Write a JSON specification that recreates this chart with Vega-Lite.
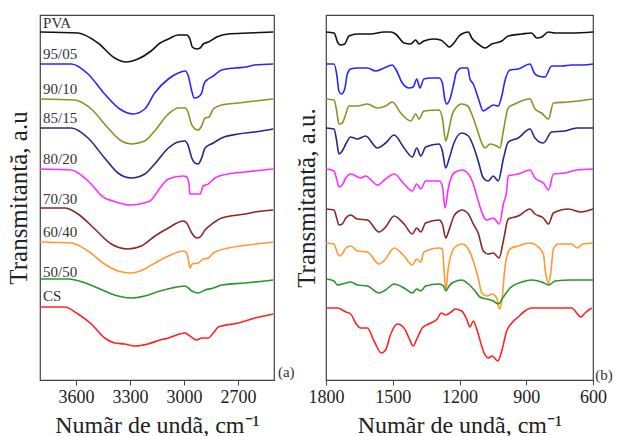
{
"$schema":"https://vega.github.io/schema/vega-lite/v6.json",
"padding":{"left":5,"top":14,"right":2,"bottom":0},
"background":"white",
"config":{"view":{"stroke":"#444","strokeWidth":1.2},"font":"Liberation Serif",
"axis":{"labelFont":"Liberation Serif","titleFont":"Liberation Serif","titleFontWeight":"normal","labelColor":"#222","titleColor":"#222","domainColor":"#444","tickColor":"#444","grid":false,"labelOverlap":false}},
"hconcat":[
{"width":234,"height":365,
"layer":[
{"data":{"values":[
{"s":"PVA","w":3800,"t":348},{"s":"PVA","w":3589,"t":347},{"s":"PVA","w":3478,"t":337},{"s":"PVA","w":3385,"t":322},{"s":"PVA","w":3322,"t":318},{"s":"PVA","w":3256,"t":321},{"s":"PVA","w":3183,"t":329},{"s":"PVA","w":3133,"t":337},{"s":"PVA","w":3087,"t":341},{"s":"PVA","w":3033,"t":345},{"s":"PVA","w":2985,"t":345},{"s":"PVA","w":2967,"t":341},{"s":"PVA","w":2954,"t":333},{"s":"PVA","w":2929,"t":331},{"s":"PVA","w":2911,"t":332},{"s":"PVA","w":2893,"t":336},{"s":"PVA","w":2865,"t":338},{"s":"PVA","w":2818,"t":343},{"s":"PVA","w":2754,"t":346},{"s":"PVA","w":2644,"t":347},{"s":"PVA","w":2504,"t":348},
{"s":"95/05","w":3800,"t":316},{"s":"95/05","w":3626,"t":316},{"s":"95/05","w":3533,"t":306},{"s":"95/05","w":3441,"t":286},{"s":"95/05","w":3357,"t":271},{"s":"95/05","w":3283,"t":266},{"s":"95/05","w":3218,"t":271},{"s":"95/05","w":3163,"t":287},{"s":"95/05","w":3087,"t":301},{"s":"95/05","w":3032,"t":307},{"s":"95/05","w":2994,"t":309},{"s":"95/05","w":2976,"t":304},{"s":"95/05","w":2957,"t":289},{"s":"95/05","w":2943,"t":282},{"s":"95/05","w":2921,"t":283},{"s":"95/05","w":2902,"t":287},{"s":"95/05","w":2887,"t":297},{"s":"95/05","w":2865,"t":301},{"s":"95/05","w":2837,"t":304},{"s":"95/05","w":2791,"t":310},{"s":"95/05","w":2717,"t":312},{"s":"95/05","w":2652,"t":313},{"s":"95/05","w":2606,"t":315},{"s":"95/05","w":2504,"t":316},
{"s":"90/10","w":3800,"t":281},{"s":"90/10","w":3607,"t":280},{"s":"90/10","w":3515,"t":271},{"s":"90/10","w":3422,"t":252},{"s":"90/10","w":3348,"t":239},{"s":"90/10","w":3293,"t":236},{"s":"90/10","w":3218,"t":239},{"s":"90/10","w":3163,"t":249},{"s":"90/10","w":3087,"t":266},{"s":"90/10","w":3032,"t":272},{"s":"90/10","w":2994,"t":272},{"s":"90/10","w":2976,"t":267},{"s":"90/10","w":2961,"t":257},{"s":"90/10","w":2939,"t":251},{"s":"90/10","w":2921,"t":250},{"s":"90/10","w":2902,"t":254},{"s":"90/10","w":2883,"t":262},{"s":"90/10","w":2861,"t":263},{"s":"90/10","w":2837,"t":271},{"s":"90/10","w":2791,"t":275},{"s":"90/10","w":2698,"t":277},{"s":"90/10","w":2606,"t":279},{"s":"90/10","w":2504,"t":281},
{"s":"85/15","w":3800,"t":252},{"s":"85/15","w":3626,"t":252},{"s":"85/15","w":3533,"t":242},{"s":"85/15","w":3441,"t":222},{"s":"85/15","w":3367,"t":207},{"s":"85/15","w":3293,"t":202},{"s":"85/15","w":3218,"t":206},{"s":"85/15","w":3163,"t":216},{"s":"85/15","w":3087,"t":232},{"s":"85/15","w":3032,"t":238},{"s":"85/15","w":2994,"t":239},{"s":"85/15","w":2976,"t":234},{"s":"85/15","w":2957,"t":222},{"s":"85/15","w":2939,"t":217},{"s":"85/15","w":2921,"t":216},{"s":"85/15","w":2902,"t":222},{"s":"85/15","w":2883,"t":232},{"s":"85/15","w":2837,"t":237},{"s":"85/15","w":2791,"t":242},{"s":"85/15","w":2698,"t":246},{"s":"85/15","w":2606,"t":248},{"s":"85/15","w":2504,"t":251},
{"s":"80/20","w":3800,"t":211},{"s":"80/20","w":3626,"t":210},{"s":"80/20","w":3533,"t":199},{"s":"80/20","w":3441,"t":182},{"s":"80/20","w":3394,"t":179},{"s":"80/20","w":3300,"t":175},{"s":"80/20","w":3189,"t":179},{"s":"80/20","w":3133,"t":192},{"s":"80/20","w":3087,"t":201},{"s":"80/20","w":3004,"t":204},{"s":"80/20","w":2985,"t":203},{"s":"80/20","w":2972,"t":196},{"s":"80/20","w":2967,"t":186},{"s":"80/20","w":2939,"t":186},{"s":"80/20","w":2911,"t":186},{"s":"80/20","w":2893,"t":194},{"s":"80/20","w":2865,"t":196},{"s":"80/20","w":2828,"t":202},{"s":"80/20","w":2754,"t":206},{"s":"80/20","w":2661,"t":208},{"s":"80/20","w":2504,"t":211},
{"s":"70/30","w":3800,"t":172},{"s":"70/30","w":3663,"t":172},{"s":"70/30","w":3589,"t":166},{"s":"70/30","w":3496,"t":151},{"s":"70/30","w":3404,"t":136},{"s":"70/30","w":3311,"t":131},{"s":"70/30","w":3237,"t":134},{"s":"70/30","w":3161,"t":144},{"s":"70/30","w":3087,"t":152},{"s":"70/30","w":3004,"t":159},{"s":"70/30","w":2985,"t":157},{"s":"70/30","w":2957,"t":147},{"s":"70/30","w":2929,"t":142},{"s":"70/30","w":2911,"t":143},{"s":"70/30","w":2883,"t":150},{"s":"70/30","w":2837,"t":157},{"s":"70/30","w":2791,"t":162},{"s":"70/30","w":2661,"t":166},{"s":"70/30","w":2606,"t":168},{"s":"70/30","w":2504,"t":170},
{"s":"60/40","w":3800,"t":138},{"s":"60/40","w":3626,"t":137},{"s":"60/40","w":3533,"t":129},{"s":"60/40","w":3441,"t":116},{"s":"60/40","w":3367,"t":109},{"s":"60/40","w":3293,"t":107},{"s":"60/40","w":3218,"t":111},{"s":"60/40","w":3161,"t":117},{"s":"60/40","w":3087,"t":124},{"s":"60/40","w":3004,"t":129},{"s":"60/40","w":2985,"t":127},{"s":"60/40","w":2976,"t":121},{"s":"60/40","w":2967,"t":112},{"s":"60/40","w":2954,"t":116},{"s":"60/40","w":2921,"t":117},{"s":"60/40","w":2893,"t":121},{"s":"60/40","w":2865,"t":122},{"s":"60/40","w":2837,"t":127},{"s":"60/40","w":2754,"t":132},{"s":"60/40","w":2643,"t":135},{"s":"60/40","w":2504,"t":138},
{"s":"50/50","w":3800,"t":101},{"s":"50/50","w":3644,"t":101},{"s":"50/50","w":3533,"t":96},{"s":"50/50","w":3441,"t":89},{"s":"50/50","w":3367,"t":84},{"s":"50/50","w":3293,"t":82},{"s":"50/50","w":3218,"t":84},{"s":"50/50","w":3133,"t":89},{"s":"50/50","w":3068,"t":92},{"s":"50/50","w":2994,"t":94},{"s":"50/50","w":2976,"t":92},{"s":"50/50","w":2957,"t":89},{"s":"50/50","w":2921,"t":87},{"s":"50/50","w":2883,"t":90},{"s":"50/50","w":2837,"t":92},{"s":"50/50","w":2791,"t":95},{"s":"50/50","w":2661,"t":97},{"s":"50/50","w":2504,"t":100},
{"s":"CS","w":3800,"t":73},{"s":"CS","w":3663,"t":73},{"s":"CS","w":3589,"t":66},{"s":"CS","w":3515,"t":56},{"s":"CS","w":3441,"t":42},{"s":"CS","w":3385,"t":37},{"s":"CS","w":3330,"t":36},{"s":"CS","w":3274,"t":34},{"s":"CS","w":3200,"t":36},{"s":"CS","w":3133,"t":40},{"s":"CS","w":3087,"t":42},{"s":"CS","w":2994,"t":47},{"s":"CS","w":2967,"t":44},{"s":"CS","w":2929,"t":40},{"s":"CS","w":2902,"t":42},{"s":"CS","w":2865,"t":42},{"s":"CS","w":2837,"t":47},{"s":"CS","w":2809,"t":53},{"s":"CS","w":2698,"t":57},{"s":"CS","w":2606,"t":62},{"s":"CS","w":2504,"t":66}
]},
"mark":{"type":"line","strokeWidth":1.6,"interpolate":"monotone"},
"encoding":{
"x":{"field":"w","type":"quantitative","scale":{"domain":[2500,3800],"reverse":true,"nice":false,"zero":false},
"axis":{"values":[3600,3300,3000,2700],"format":"d","title":"Numãr de undã, cm⁻¹","tickSize":5,"labelFontSize":18,"titleFontSize":24,"labelPadding":3,"titlePadding":7,"labelFlush":false,"labelOverlap":false,"labelFont":"Liberation Serif","titleFont":"Liberation Serif"}},
"y":{"field":"t","type":"quantitative","scale":{"domain":[0,365],"nice":false,"zero":false},
"axis":{"title":"Transmitantă, a.u","ticks":false,"labels":false,"domain":false,"titleFontSize":25,"titlePadding":9,"titleFont":"Liberation Serif"}},
"color":{"field":"s","type":"nominal","legend":null,"scale":{"domain":["PVA","95/05","90/10","85/15","80/20","70/30","60/40","50/50","CS"],"range":["#111111","#2626ff","#8f8f26","#26268c","#ff2eff","#8c2626","#ff9933","#2b962b","#ff2222"]}}}},
{"data":{"values":[
{"s":"PVA","w":3783,"t":352},{"s":"95/05","w":3783,"t":321},{"s":"90/10","w":3783,"t":286},{"s":"85/15","w":3783,"t":257},{"s":"80/20","w":3783,"t":216},{"s":"70/30","w":3783,"t":176},{"s":"60/40","w":3783,"t":143},{"s":"50/50","w":3783,"t":103},{"s":"CS","w":3783,"t":79},{"s":"(a)","w":2478,"t":3}
]},
"mark":{"type":"text","align":"left","baseline":"alphabetic","fontSize":15,"font":"Liberation Serif","color":"#333"},
"encoding":{"x":{"field":"w","type":"quantitative"},"y":{"field":"t","type":"quantitative"},"text":{"field":"s"}}}
]},
{"width":267,"height":365,
"layer":[
{"data":{"values":[
{"s":"PVA","w":1800,"t":348},{"s":"PVA","w":1764,"t":347},{"s":"PVA","w":1746,"t":337},{"s":"PVA","w":1734,"t":335},{"s":"PVA","w":1716,"t":336},{"s":"PVA","w":1697,"t":344},{"s":"PVA","w":1659,"t":346},{"s":"PVA","w":1599,"t":346},{"s":"PVA","w":1539,"t":348},{"s":"PVA","w":1509,"t":348},{"s":"PVA","w":1487,"t":346},{"s":"PVA","w":1449,"t":337},{"s":"PVA","w":1419,"t":336},{"s":"PVA","w":1397,"t":340},{"s":"PVA","w":1382,"t":336},{"s":"PVA","w":1360,"t":339},{"s":"PVA","w":1315,"t":341},{"s":"PVA","w":1285,"t":340},{"s":"PVA","w":1262,"t":336},{"s":"PVA","w":1247,"t":333},{"s":"PVA","w":1225,"t":337},{"s":"PVA","w":1202,"t":344},{"s":"PVA","w":1190,"t":346},{"s":"PVA","w":1160,"t":348},{"s":"PVA","w":1145,"t":342},{"s":"PVA","w":1116,"t":336},{"s":"PVA","w":1085,"t":332},{"s":"PVA","w":1055,"t":336},{"s":"PVA","w":1010,"t":339},{"s":"PVA","w":981,"t":344},{"s":"PVA","w":920,"t":346},{"s":"PVA","w":876,"t":347},{"s":"PVA","w":853,"t":342},{"s":"PVA","w":830,"t":343},{"s":"PVA","w":801,"t":348},{"s":"PVA","w":771,"t":347},{"s":"PVA","w":696,"t":347},{"s":"PVA","w":600,"t":348},
{"s":"95/05","w":1800,"t":316},{"s":"95/05","w":1764,"t":316},{"s":"95/05","w":1752,"t":306},{"s":"95/05","w":1742,"t":289},{"s":"95/05","w":1731,"t":286},{"s":"95/05","w":1716,"t":291},{"s":"95/05","w":1704,"t":306},{"s":"95/05","w":1689,"t":311},{"s":"95/05","w":1659,"t":312},{"s":"95/05","w":1614,"t":312},{"s":"95/05","w":1577,"t":309},{"s":"95/05","w":1539,"t":312},{"s":"95/05","w":1502,"t":315},{"s":"95/05","w":1487,"t":311},{"s":"95/05","w":1457,"t":297},{"s":"95/05","w":1427,"t":292},{"s":"95/05","w":1408,"t":293},{"s":"95/05","w":1392,"t":301},{"s":"95/05","w":1378,"t":292},{"s":"95/05","w":1360,"t":301},{"s":"95/05","w":1329,"t":302},{"s":"95/05","w":1292,"t":302},{"s":"95/05","w":1277,"t":297},{"s":"95/05","w":1267,"t":282},{"s":"95/05","w":1258,"t":276},{"s":"95/05","w":1243,"t":281},{"s":"95/05","w":1225,"t":297},{"s":"95/05","w":1215,"t":307},{"s":"95/05","w":1190,"t":312},{"s":"95/05","w":1163,"t":312},{"s":"95/05","w":1153,"t":301},{"s":"95/05","w":1138,"t":296},{"s":"95/05","w":1116,"t":282},{"s":"95/05","w":1093,"t":269},{"s":"95/05","w":1071,"t":272},{"s":"95/05","w":1048,"t":275},{"s":"95/05","w":1026,"t":274},{"s":"95/05","w":1010,"t":284},{"s":"95/05","w":996,"t":299},{"s":"95/05","w":973,"t":310},{"s":"95/05","w":936,"t":311},{"s":"95/05","w":883,"t":316},{"s":"95/05","w":864,"t":307},{"s":"95/05","w":846,"t":304},{"s":"95/05","w":816,"t":303},{"s":"95/05","w":786,"t":314},{"s":"95/05","w":741,"t":314},{"s":"95/05","w":696,"t":315},{"s":"95/05","w":651,"t":315},{"s":"95/05","w":600,"t":316},
{"s":"90/10","w":1800,"t":281},{"s":"90/10","w":1764,"t":280},{"s":"90/10","w":1752,"t":269},{"s":"90/10","w":1742,"t":256},{"s":"90/10","w":1727,"t":257},{"s":"90/10","w":1711,"t":266},{"s":"90/10","w":1697,"t":274},{"s":"90/10","w":1659,"t":274},{"s":"90/10","w":1614,"t":276},{"s":"90/10","w":1569,"t":272},{"s":"90/10","w":1532,"t":274},{"s":"90/10","w":1502,"t":278},{"s":"90/10","w":1464,"t":267},{"s":"90/10","w":1419,"t":259},{"s":"90/10","w":1397,"t":266},{"s":"90/10","w":1382,"t":261},{"s":"90/10","w":1360,"t":269},{"s":"90/10","w":1292,"t":270},{"s":"90/10","w":1277,"t":262},{"s":"90/10","w":1262,"t":239},{"s":"90/10","w":1252,"t":246},{"s":"90/10","w":1232,"t":266},{"s":"90/10","w":1220,"t":271},{"s":"90/10","w":1190,"t":276},{"s":"90/10","w":1163,"t":274},{"s":"90/10","w":1145,"t":266},{"s":"90/10","w":1123,"t":252},{"s":"90/10","w":1100,"t":237},{"s":"90/10","w":1085,"t":232},{"s":"90/10","w":1063,"t":236},{"s":"90/10","w":1033,"t":234},{"s":"90/10","w":1018,"t":232},{"s":"90/10","w":1003,"t":249},{"s":"90/10","w":981,"t":272},{"s":"90/10","w":951,"t":276},{"s":"90/10","w":883,"t":281},{"s":"90/10","w":861,"t":271},{"s":"90/10","w":831,"t":267},{"s":"90/10","w":800,"t":261},{"s":"90/10","w":778,"t":277},{"s":"90/10","w":711,"t":278},{"s":"90/10","w":600,"t":281},
{"s":"85/15","w":1800,"t":252},{"s":"85/15","w":1764,"t":251},{"s":"85/15","w":1752,"t":239},{"s":"85/15","w":1742,"t":226},{"s":"85/15","w":1727,"t":229},{"s":"85/15","w":1711,"t":236},{"s":"85/15","w":1689,"t":243},{"s":"85/15","w":1659,"t":241},{"s":"85/15","w":1622,"t":244},{"s":"85/15","w":1569,"t":232},{"s":"85/15","w":1532,"t":237},{"s":"85/15","w":1494,"t":245},{"s":"85/15","w":1449,"t":232},{"s":"85/15","w":1412,"t":223},{"s":"85/15","w":1392,"t":232},{"s":"85/15","w":1374,"t":224},{"s":"85/15","w":1352,"t":233},{"s":"85/15","w":1292,"t":236},{"s":"85/15","w":1277,"t":229},{"s":"85/15","w":1262,"t":212},{"s":"85/15","w":1247,"t":221},{"s":"85/15","w":1225,"t":237},{"s":"85/15","w":1190,"t":247},{"s":"85/15","w":1160,"t":244},{"s":"85/15","w":1138,"t":234},{"s":"85/15","w":1116,"t":219},{"s":"85/15","w":1093,"t":202},{"s":"85/15","w":1071,"t":199},{"s":"85/15","w":1048,"t":204},{"s":"85/15","w":1026,"t":199},{"s":"85/15","w":1003,"t":221},{"s":"85/15","w":981,"t":238},{"s":"85/15","w":936,"t":242},{"s":"85/15","w":883,"t":251},{"s":"85/15","w":861,"t":242},{"s":"85/15","w":823,"t":237},{"s":"85/15","w":786,"t":248},{"s":"85/15","w":726,"t":249},{"s":"85/15","w":673,"t":252},{"s":"85/15","w":600,"t":252},
{"s":"80/20","w":1800,"t":211},{"s":"80/20","w":1764,"t":209},{"s":"80/20","w":1752,"t":201},{"s":"80/20","w":1742,"t":193},{"s":"80/20","w":1727,"t":195},{"s":"80/20","w":1711,"t":202},{"s":"80/20","w":1689,"t":206},{"s":"80/20","w":1644,"t":202},{"s":"80/20","w":1622,"t":204},{"s":"80/20","w":1569,"t":195},{"s":"80/20","w":1532,"t":201},{"s":"80/20","w":1494,"t":206},{"s":"80/20","w":1449,"t":196},{"s":"80/20","w":1412,"t":189},{"s":"80/20","w":1392,"t":196},{"s":"80/20","w":1374,"t":191},{"s":"80/20","w":1352,"t":199},{"s":"80/20","w":1292,"t":199},{"s":"80/20","w":1277,"t":194},{"s":"80/20","w":1265,"t":172},{"s":"80/20","w":1250,"t":192},{"s":"80/20","w":1225,"t":207},{"s":"80/20","w":1190,"t":210},{"s":"80/20","w":1160,"t":206},{"s":"80/20","w":1138,"t":196},{"s":"80/20","w":1116,"t":179},{"s":"80/20","w":1093,"t":164},{"s":"80/20","w":1078,"t":160},{"s":"80/20","w":1048,"t":162},{"s":"80/20","w":1021,"t":156},{"s":"80/20","w":1003,"t":176},{"s":"80/20","w":988,"t":189},{"s":"80/20","w":981,"t":204},{"s":"80/20","w":936,"t":206},{"s":"80/20","w":883,"t":210},{"s":"80/20","w":861,"t":202},{"s":"80/20","w":823,"t":197},{"s":"80/20","w":800,"t":190},{"s":"80/20","w":778,"t":206},{"s":"80/20","w":726,"t":207},{"s":"80/20","w":673,"t":210},{"s":"80/20","w":600,"t":211},
{"s":"70/30","w":1800,"t":171},{"s":"70/30","w":1764,"t":170},{"s":"70/30","w":1752,"t":162},{"s":"70/30","w":1742,"t":155},{"s":"70/30","w":1727,"t":156},{"s":"70/30","w":1711,"t":162},{"s":"70/30","w":1689,"t":165},{"s":"70/30","w":1659,"t":161},{"s":"70/30","w":1614,"t":160},{"s":"70/30","w":1562,"t":148},{"s":"70/30","w":1532,"t":153},{"s":"70/30","w":1494,"t":164},{"s":"70/30","w":1449,"t":156},{"s":"70/30","w":1412,"t":146},{"s":"70/30","w":1392,"t":152},{"s":"70/30","w":1374,"t":148},{"s":"70/30","w":1352,"t":157},{"s":"70/30","w":1292,"t":160},{"s":"70/30","w":1277,"t":156},{"s":"70/30","w":1262,"t":142},{"s":"70/30","w":1247,"t":150},{"s":"70/30","w":1225,"t":164},{"s":"70/30","w":1202,"t":169},{"s":"70/30","w":1190,"t":170},{"s":"70/30","w":1160,"t":166},{"s":"70/30","w":1138,"t":156},{"s":"70/30","w":1116,"t":147},{"s":"70/30","w":1093,"t":129},{"s":"70/30","w":1071,"t":126},{"s":"70/30","w":1048,"t":127},{"s":"70/30","w":1022,"t":122},{"s":"70/30","w":1003,"t":139},{"s":"70/30","w":981,"t":161},{"s":"70/30","w":936,"t":164},{"s":"70/30","w":883,"t":171},{"s":"70/30","w":861,"t":166},{"s":"70/30","w":823,"t":162},{"s":"70/30","w":800,"t":156},{"s":"70/30","w":778,"t":167},{"s":"70/30","w":711,"t":171},{"s":"70/30","w":655,"t":168},{"s":"70/30","w":600,"t":171},
{"s":"60/40","w":1800,"t":137},{"s":"60/40","w":1764,"t":136},{"s":"60/40","w":1752,"t":129},{"s":"60/40","w":1742,"t":124},{"s":"60/40","w":1727,"t":126},{"s":"60/40","w":1711,"t":132},{"s":"60/40","w":1689,"t":134},{"s":"60/40","w":1659,"t":129},{"s":"60/40","w":1614,"t":128},{"s":"60/40","w":1562,"t":116},{"s":"60/40","w":1532,"t":121},{"s":"60/40","w":1494,"t":132},{"s":"60/40","w":1449,"t":124},{"s":"60/40","w":1412,"t":115},{"s":"60/40","w":1392,"t":121},{"s":"60/40","w":1374,"t":118},{"s":"60/40","w":1360,"t":128},{"s":"60/40","w":1292,"t":132},{"s":"60/40","w":1277,"t":131},{"s":"60/40","w":1267,"t":102},{"s":"60/40","w":1261,"t":90},{"s":"60/40","w":1252,"t":109},{"s":"60/40","w":1232,"t":129},{"s":"60/40","w":1220,"t":133},{"s":"60/40","w":1190,"t":136},{"s":"60/40","w":1160,"t":131},{"s":"60/40","w":1138,"t":119},{"s":"60/40","w":1116,"t":102},{"s":"60/40","w":1100,"t":87},{"s":"60/40","w":1078,"t":84},{"s":"60/40","w":1053,"t":86},{"s":"60/40","w":1033,"t":82},{"s":"60/40","w":1021,"t":71},{"s":"60/40","w":1010,"t":79},{"s":"60/40","w":996,"t":112},{"s":"60/40","w":973,"t":131},{"s":"60/40","w":936,"t":134},{"s":"60/40","w":883,"t":137},{"s":"60/40","w":846,"t":133},{"s":"60/40","w":823,"t":126},{"s":"60/40","w":813,"t":107},{"s":"60/40","w":800,"t":96},{"s":"60/40","w":789,"t":109},{"s":"60/40","w":778,"t":131},{"s":"60/40","w":756,"t":136},{"s":"60/40","w":697,"t":136},{"s":"60/40","w":670,"t":132},{"s":"60/40","w":647,"t":136},{"s":"60/40","w":600,"t":137},
{"s":"50/50","w":1800,"t":101},{"s":"50/50","w":1764,"t":99},{"s":"50/50","w":1749,"t":95},{"s":"50/50","w":1727,"t":96},{"s":"50/50","w":1689,"t":98},{"s":"50/50","w":1659,"t":95},{"s":"50/50","w":1614,"t":94},{"s":"50/50","w":1562,"t":87},{"s":"50/50","w":1532,"t":90},{"s":"50/50","w":1494,"t":96},{"s":"50/50","w":1449,"t":92},{"s":"50/50","w":1412,"t":87},{"s":"50/50","w":1392,"t":91},{"s":"50/50","w":1374,"t":89},{"s":"50/50","w":1352,"t":94},{"s":"50/50","w":1292,"t":96},{"s":"50/50","w":1272,"t":94},{"s":"50/50","w":1261,"t":89},{"s":"50/50","w":1247,"t":94},{"s":"50/50","w":1225,"t":98},{"s":"50/50","w":1190,"t":100},{"s":"50/50","w":1160,"t":96},{"s":"50/50","w":1130,"t":89},{"s":"50/50","w":1108,"t":83},{"s":"50/50","w":1078,"t":81},{"s":"50/50","w":1048,"t":79},{"s":"50/50","w":1026,"t":76},{"s":"50/50","w":1003,"t":83},{"s":"50/50","w":973,"t":92},{"s":"50/50","w":920,"t":98},{"s":"50/50","w":876,"t":100},{"s":"50/50","w":830,"t":98},{"s":"50/50","w":798,"t":95},{"s":"50/50","w":771,"t":99},{"s":"50/50","w":696,"t":100},{"s":"50/50","w":600,"t":100},
{"s":"CS","w":1800,"t":72},{"s":"CS","w":1749,"t":72},{"s":"CS","w":1711,"t":68},{"s":"CS","w":1689,"t":66},{"s":"CS","w":1667,"t":57},{"s":"CS","w":1644,"t":52},{"s":"CS","w":1614,"t":52},{"s":"CS","w":1584,"t":39},{"s":"CS","w":1551,"t":27},{"s":"CS","w":1532,"t":30},{"s":"CS","w":1509,"t":46},{"s":"CS","w":1480,"t":56},{"s":"CS","w":1449,"t":52},{"s":"CS","w":1427,"t":42},{"s":"CS","w":1408,"t":34},{"s":"CS","w":1390,"t":42},{"s":"CS","w":1367,"t":52},{"s":"CS","w":1329,"t":57},{"s":"CS","w":1300,"t":61},{"s":"CS","w":1282,"t":67},{"s":"CS","w":1262,"t":65},{"s":"CS","w":1232,"t":69},{"s":"CS","w":1220,"t":71},{"s":"CS","w":1190,"t":69},{"s":"CS","w":1168,"t":61},{"s":"CS","w":1153,"t":53},{"s":"CS","w":1138,"t":59},{"s":"CS","w":1116,"t":46},{"s":"CS","w":1093,"t":29},{"s":"CS","w":1071,"t":22},{"s":"CS","w":1053,"t":24},{"s":"CS","w":1028,"t":19},{"s":"CS","w":1010,"t":29},{"s":"CS","w":988,"t":49},{"s":"CS","w":965,"t":57},{"s":"CS","w":936,"t":63},{"s":"CS","w":906,"t":69},{"s":"CS","w":876,"t":72},{"s":"CS","w":771,"t":72},{"s":"CS","w":696,"t":72},{"s":"CS","w":654,"t":63},{"s":"CS","w":636,"t":67},{"s":"CS","w":606,"t":72}
]},
"mark":{"type":"line","strokeWidth":1.6,"interpolate":"monotone"},
"encoding":{
"x":{"field":"w","type":"quantitative","scale":{"domain":[600,1800],"reverse":true,"nice":false,"zero":false},
"axis":{"values":[1800,1650,1500,1350,1200,1050,900,750,600],"format":"d","labelExpr":"datum.value % 300 == 0 ? datum.label : ''","title":"Numãr de undã, cm⁻¹","tickSize":5,"labelFontSize":18,"titleFontSize":24,"labelPadding":3,"titlePadding":7,"labelFlush":false,"labelOverlap":false,"labelFont":"Liberation Serif","titleFont":"Liberation Serif"}},
"y":{"field":"t","type":"quantitative","scale":{"domain":[0,365],"nice":false,"zero":false},
"axis":{"title":"Transmitantă, a.u.","ticks":false,"labels":false,"domain":false,"titleFontSize":25,"titlePadding":7,"titleFont":"Liberation Serif"}},
"color":{"field":"s","type":"nominal","legend":null,"scale":{"domain":["PVA","95/05","90/10","85/15","80/20","70/30","60/40","50/50","CS"],"range":["#111111","#2626ff","#8f8f26","#26268c","#ff2eff","#8c2626","#ff9933","#2b962b","#ff2222"]}}}},
{"data":{"values":[{"s":"(b)","w":551,"t":5}]},
"mark":{"type":"text","align":"center","baseline":"middle","fontSize":15,"font":"Liberation Serif","color":"#333"},
"encoding":{"x":{"field":"w","type":"quantitative"},"y":{"field":"t","type":"quantitative"},"text":{"field":"s"}}}
]}
],
"spacing":52,
"bounds":"flush"
}
